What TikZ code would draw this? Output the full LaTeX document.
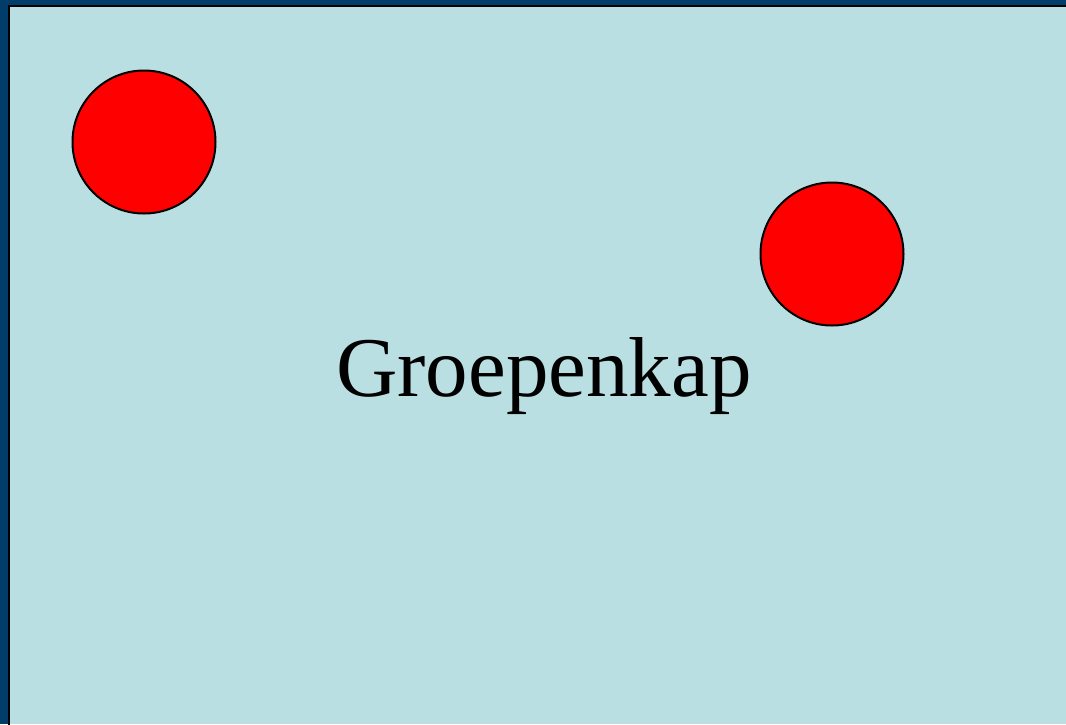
\documentclass[tikz,border=0pt]{standalone}
\usepackage{fontspec}
\setmainfont{Liberation Serif}
\definecolor{frame}{HTML}{003D6B}
\definecolor{panel}{HTML}{BADFE2}
\begin{document}
\begin{tikzpicture}[x=1pt,y=-1pt,
  ball/.style={circle,draw=black,line width=2pt,fill=red,minimum size=143pt,inner sep=0pt}]
\fill[frame] (0,0) rectangle (1066,724);
\useasboundingbox (0,0) rectangle (1066,724);
\fill[panel] (9,6) rectangle (1066,724);
\draw[black,line width=2pt] (9,730) -- (9,6) -- (1070,6);
\node[ball] (b1) at (144,142) {};
\node[ball] (b2) at (832,254) {};
\node[anchor=base] (t) at (544,396) {\fontsize{85}{90}\selectfont Groepenkap};
\end{tikzpicture}
\end{document}
